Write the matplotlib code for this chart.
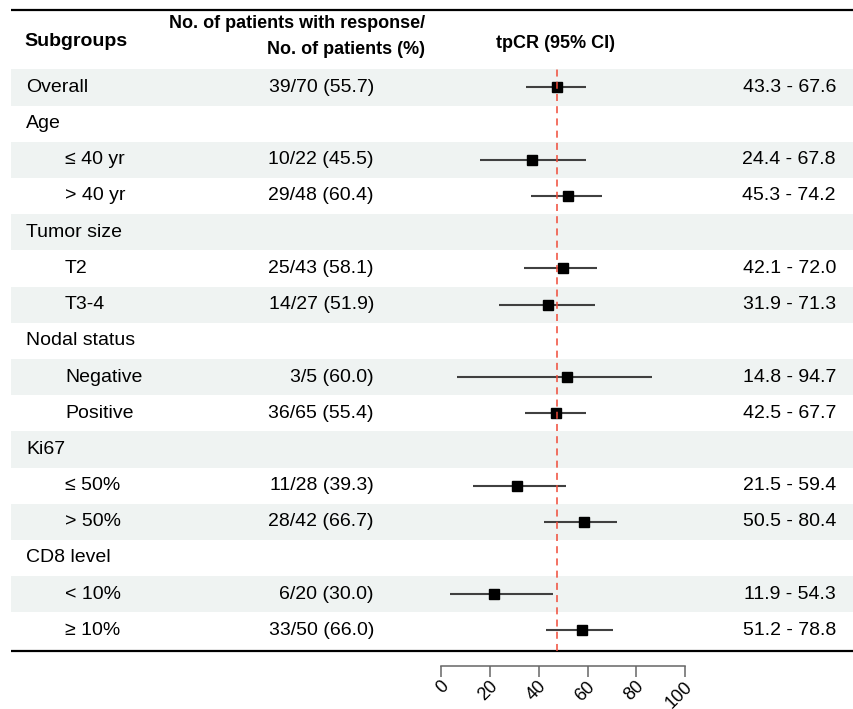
import numpy as np
import matplotlib.pyplot as plt
from matplotlib.transforms import ScaledTranslation

W, H = 854, 709

subgroups = ["Overall", "Age", "\u2264 40 yr", "> 40 yr", "Tumor size", "T2", "T3-4",
             "Nodal status", "Negative", "Positive", "Ki67", "\u2264 50%", "> 50%",
             "CD8 level", "< 10%", "\u2265 10%"]
level = [0, 0, 1, 1, 0, 1, 1, 0, 1, 1, 0, 1, 1, 0, 1, 1]
n_resp = [39, None, 10, 29, None, 25, 14, None, 3, 36, None, 11, 28, None, 6, 33]
n_total = [70, None, 22, 48, None, 43, 27, None, 5, 65, None, 28, 42, None, 20, 50]
rate = [55.7, None, 45.5, 60.4, None, 58.1, 51.9, None, 60.0, 55.4, None, 39.3, 66.7, None, 30.0, 66.0]
ci_low = [43.3, None, 24.4, 45.3, None, 42.1, 31.9, None, 14.8, 42.5, None, 21.5, 50.5, None, 11.9, 51.2]
ci_high = [67.6, None, 67.8, 74.2, None, 72.0, 71.3, None, 94.7, 67.7, None, 59.4, 80.4, None, 54.3, 78.8]
ref_value = 55.7
x_ticks = [0, 20, 40, 60, 80, 100]

plt.rcParams['font.family'] = ['Liberation Sans', 'DejaVu Sans']

fig = plt.figure(figsize=(W / 100, H / 100), dpi=100)

# background axes in pixel coordinates (table part)
bg = fig.add_axes([0, 0, 1, 1])
bg.set_xlim(0, W)
bg.set_ylim(H, 0)
bg.axis('off')

row_top = 69.3
row_h = 36.2
n_rows = len(subgroups)
fs = 14

for i, name in enumerate(subgroups):
    y0 = row_top + row_h * i
    yc = y0 + row_h / 2
    if i % 2 == 0:
        bg.fill_between([11, W], y0, y0 + row_h, color='#eff3f2', lw=0, zorder=0)
    bg.text(26 if level[i] == 0 else 65, yc, name, ha='left', va='center', fontsize=fs)
    if n_resp[i] is not None:
        bg.text(374, yc, f"{n_resp[i]}/{n_total[i]} ({rate[i]:.1f})", ha='right', va='center', fontsize=fs)
        bg.text(836, yc, f"{ci_low[i]:.1f} - {ci_high[i]:.1f}", ha='right', va='center', fontsize=fs)

# header
bg.text(24, 42, "Subgroups", ha='left', va='center', fontsize=fs, fontweight='bold')
bg.text(425, 24, "No. of patients with response/", ha='right', va='center', fontsize=13, fontweight='bold')
bg.text(425, 50, "No. of patients (%)", ha='right', va='center', fontsize=13, fontweight='bold')
bg.text(556, 43, "tpCR (95% CI)", ha='center', va='center', fontsize=13, fontweight='bold')

# horizontal rules
bg.plot([11, W], [9.5, 9.5], color='black', lw=1.6, solid_capstyle='butt')
bg.plot([11, W], [651, 651], color='black', lw=1.6, solid_capstyle='butt')

# forest panel
x0_px, px_per_unit = 420.5, 2.448
fx = fig.add_axes([x0_px / W, (H - (row_top + row_h * n_rows)) / H,
                   100 * px_per_unit / W, row_h * n_rows / H])
fx.set_xlim(0, 100)
fx.set_ylim(n_rows, 0)
fx.axis('off')
fx.patch.set_visible(False)

for i in range(n_rows):
    if rate[i] is None:
        continue
    yc = i + 0.5
    fx.plot([ci_low[i], ci_high[i]], [yc, yc], color='#404040', lw=1.5, zorder=2,
            solid_capstyle='butt')
    fx.plot(rate[i], yc, marker='s', color='black', markersize=6.5, zorder=3)

fx.axvline(ref_value, ymin=-0.005, ymax=1, color='#f04a38', lw=1.1,
           linestyle=(0, (4.6, 3.4)), zorder=4, clip_on=False)

# x axis (drawn below the table)
ax_x = fig.add_axes([441 / W, (H - 666) / H, 244.3 / W, 0.0001])
ax_x.set_xlim(0, 100)
ax_x.patch.set_visible(False)
for s in ['top', 'left', 'right']:
    ax_x.spines[s].set_visible(False)
ax_x.spines['bottom'].set_color('#666666')
ax_x.spines['bottom'].set_linewidth(1.1)
ax_x.set_yticks([])
ax_x.set_xticks(x_ticks)
ax_x.set_xticklabels([str(t) for t in x_ticks])
ax_x.tick_params(axis='x', direction='out', length=8, width=1.1, color='#666666',
                 labelsize=13, pad=5)
shift = ScaledTranslation(5 / 100, 0, fig.dpi_scale_trans)
for lab in ax_x.get_xticklabels():
    lab.set_rotation(45)
    lab.set_ha('right')
    lab.set_va('center')
    lab.set_rotation_mode('anchor')
    lab.set_transform(lab.get_transform() + shift)

fig.savefig('out.png', dpi=100)
